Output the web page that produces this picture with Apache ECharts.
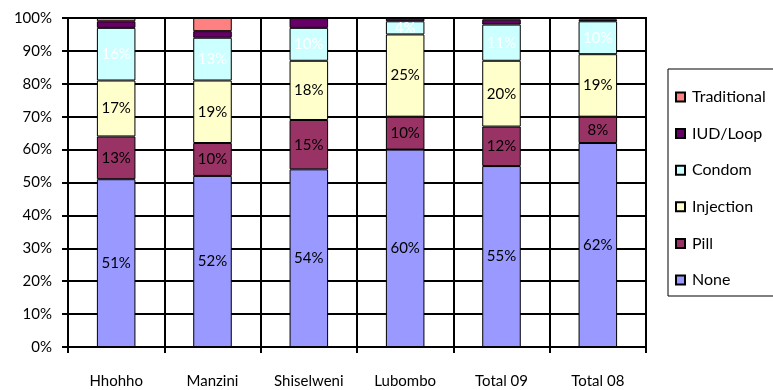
<!DOCTYPE html>
<html>
<head>
<meta charset="utf-8">
<script src="https://cdn.jsdelivr.net/npm/echarts@6/dist/echarts.min.js"></script>
<style>
  html, body { margin: 0; padding: 0; background: #fff; }
  #chart { width: 773px; height: 390px; }
</style>
</head>
<body>
<div id="chart"></div>
<script>
// Contraceptive method mix by region (percent of users)
const categories = ['Hhohho', 'Manzini', 'Shiselweni', 'Lubombo', 'Total 09', 'Total 08'];
const noneVals        = [51, 52, 54, 60, 55, 62];
const pillVals        = [13, 10, 15, 10, 12, 8];
const injectionVals   = [17, 19, 18, 25, 20, 19];
const condomVals      = [16, 13, 10, 4, 11, 10];
const iudVals         = [2, 2, 3, 1, 1.5, 0.5];
const traditionalVals = [1, 4, 0, 0, 0.5, 0.5];
const yTicks = [0, 10, 20, 30, 40, 50, 60, 70, 80, 90, 100];

const FONT = 'Lato, "Open Sans", sans-serif';

function makeSeries(name, values, color, labelColor) {
  return {
    name: name,
    type: 'bar',
    stack: 'mix',
    barWidth: '40%',
    data: values,
    itemStyle: { color: color, borderColor: '#000', borderWidth: 1 },
    label: labelColor ? {
      show: true,
      position: 'inside',
      color: labelColor,
      fontFamily: FONT,
      fontSize: 15,
      formatter: p => p.value + '%'
    } : { show: false }
  };
}

const chart = echarts.init(document.getElementById('chart'));
chart.setOption({
  animation: false,
  backgroundColor: '#fff',
  grid: {
    left: 68, right: 127, top: 18, bottom: 43,
    show: true, borderColor: '#000', borderWidth: 2, backgroundColor: 'transparent'
  },
  legend: {
    orient: 'vertical',
    left: 668, top: 69,
    padding: [20, 80, 8, 7],
    borderColor: '#000', borderWidth: 1,
    itemWidth: 9, itemHeight: 9,
    itemGap: 20.6,
    icon: 'rect',
    data: ['Traditional', 'IUD/Loop', 'Condom', 'Injection', 'Pill', 'None'],
    textStyle: { fontFamily: FONT, fontSize: 16, color: '#000', lineHeight: 16, padding: [0, 0, 0, 2] }
  },
  xAxis: {
    type: 'category',
    data: categories,
    boundaryGap: true,
    axisLine: { lineStyle: { color: '#000', width: 2 } },
    axisTick: { show: true, interval: 0, length: 6, lineStyle: { color: '#000', width: 2 } },
    axisLabel: { color: '#000', fontFamily: FONT, fontSize: 15, margin: 27, interval: 0 },
    splitLine: { show: true, interval: 0, lineStyle: { color: '#000', width: 2 } }
  },
  yAxis: {
    type: 'value',
    min: yTicks[0], max: yTicks[yTicks.length - 1], interval: yTicks[1] - yTicks[0],
    axisLine: { show: true, lineStyle: { color: '#000', width: 2 } },
    axisTick: { show: true, length: 6, lineStyle: { color: '#000', width: 2 } },
    axisLabel: { color: '#000', fontFamily: FONT, fontSize: 15, margin: 16, formatter: '{value}%' },
    splitLine: { show: true, lineStyle: { color: '#000', width: 2 } }
  },
  series: [
    makeSeries('None', noneVals, '#9999FF', '#000'),
    makeSeries('Pill', pillVals, '#993366', '#000'),
    makeSeries('Injection', injectionVals, '#FFFFCC', '#000'),
    makeSeries('Condom', condomVals, '#CCFFFF', '#fff'),
    makeSeries('IUD/Loop', iudVals, '#660066', null),
    makeSeries('Traditional', traditionalVals, '#FF8080', null)
  ]
});
</script>
</body>
</html>
